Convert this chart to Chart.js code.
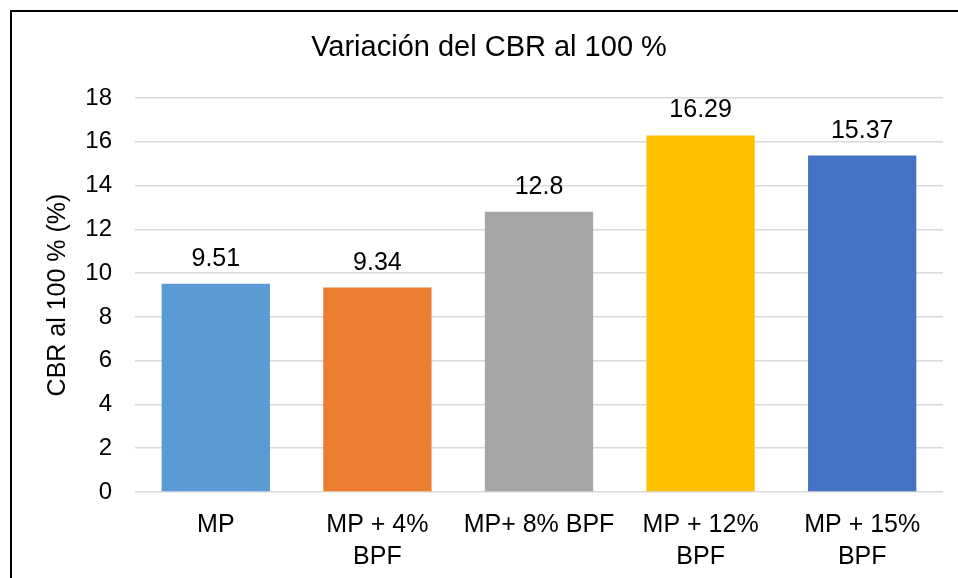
<!DOCTYPE html>
<html>
<head>
<meta charset="utf-8">
<script src="https://cdn.jsdelivr.net/npm/chart.js@4/dist/chart.umd.min.js"></script>
<style>
  html, body { margin: 0; padding: 0; background: #fff; }
  #wrap { position: relative; width: 958px; height: 578px; overflow: hidden; }
  #frame { position: absolute; left: 10px; top: 10px; width: 1000px; height: 1000px;
           border-left: 2px solid #000; border-top: 2px solid #000; }
  #cbrChart { position: absolute; left: 0; top: 0; }
</style>
</head>
<body>
<div id="wrap">
  <div id="frame"></div>
  <canvas id="cbrChart" width="958" height="578"></canvas>
</div>
<script>
/* ---- data ---- */
const chartTitle = 'Variación del CBR al 100 %';
const categories = [['MP'], ['MP + 4%', 'BPF'], ['MP+ 8% BPF'], ['MP + 12%', 'BPF'], ['MP + 15%', 'BPF']];
const cbrValues = [9.51, 9.34, 12.8, 16.29, 15.37];
const barColors = ['#5B9BD5', '#ED7D31', '#A5A5A5', '#FFC000', '#4472C4'];
const yTicks = [0, 2, 4, 6, 8, 10, 12, 14, 16, 18];

const FONT = "'Liberation Sans', Arial, sans-serif";

// title drawn by hand so it can sit slightly right of the canvas centre, like the original
const titleText = {
    id: 'titleText',
    afterDraw(chart) {
        const ctx = chart.ctx;
        ctx.save();
        ctx.font = '29px ' + FONT;
        ctx.fillStyle = '#000';
        ctx.textAlign = 'center';
        ctx.textBaseline = 'alphabetic';
        ctx.fillText(chartTitle, 489, 56);
        ctx.restore();
    }
};

// value labels above each bar
const valueLabels = {
    id: 'valueLabels',
    afterDatasetsDraw(chart) {
        const ctx = chart.ctx;
        const meta = chart.getDatasetMeta(0);
        ctx.save();
        ctx.font = '25px ' + FONT;
        ctx.fillStyle = '#000';
        ctx.textAlign = 'center';
        ctx.textBaseline = 'alphabetic';
        meta.data.forEach((bar, i) => {
            ctx.fillText(String(cbrValues[i]), bar.x, bar.y - 18);
        });
        ctx.restore();
    }
};

new Chart(document.getElementById('cbrChart'), {
    type: 'bar',
    data: {
        labels: categories,
        datasets: [{
            data: cbrValues,
            backgroundColor: barColors,
            borderWidth: 0,
            categoryPercentage: 1,
            barPercentage: 0.67,
        }]
    },
    options: {
        responsive: false,
        animation: false,
        layout: { padding: { left: 0, right: 15, top: 98, bottom: 0 } },
        plugins: {
            legend: { display: false },
            tooltip: { enabled: false },
            title: { display: false }
        },
        scales: {
            x: {
                grid: { display: false },
                border: { display: false },
                ticks: {
                    color: '#000',
                    font: { family: FONT, size: 25, lineHeight: 1.28 },
                    padding: 9,
                    maxRotation: 0,
                    autoSkip: false,
                },
                afterFit(scale) { scale.height = 86; }
            },
            y: {
                min: 0,
                max: 18,
                afterBuildTicks(scale) { scale.ticks = yTicks.map(v => ({ value: v })); },
                grid: { color: '#d9d9d9', lineWidth: 1.5, drawTicks: false },
                border: { display: false },
                ticks: {
                    color: '#000',
                    font: { family: FONT, size: 24 },
                    padding: 23,
                },
                title: {
                    display: true,
                    text: 'CBR al 100 % (%)',
                    color: '#000',
                    font: { family: FONT, size: 25 },
                    padding: { top: 43, bottom: 0 },
                },
                afterFit(scale) { scale.width = 135; }
            }
        }
    },
    plugins: [valueLabels, titleText]
});
</script>
</body>
</html>
